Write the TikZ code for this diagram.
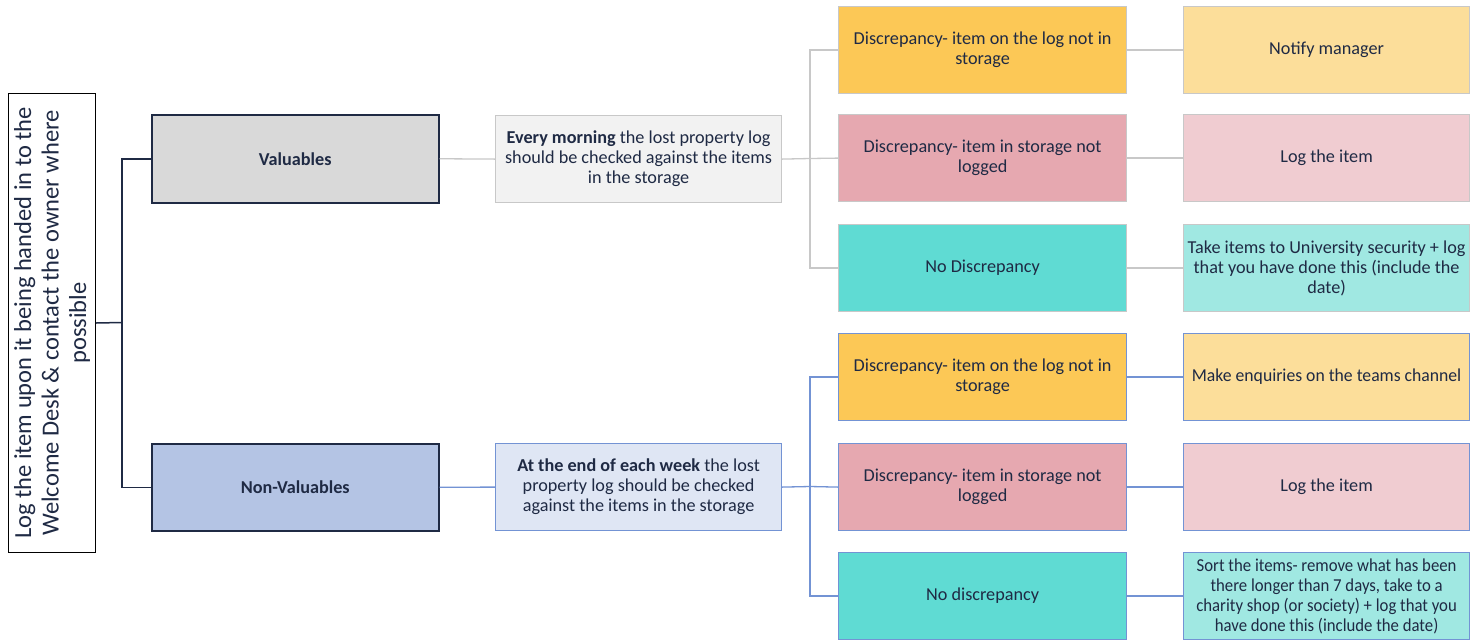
\documentclass[tikz,border=0pt]{standalone}
\usepackage{fontspec}
\setmainfont{Carlito}
\definecolor{txt}{HTML}{1F2A44}
\definecolor{dk}{HTML}{1F2A44}
\definecolor{gline}{HTML}{C8C8C8}
\definecolor{bline}{HTML}{7393D4}
\definecolor{valfill}{HTML}{D9D9D9}
\definecolor{nvalfill}{HTML}{B4C4E4}
\definecolor{emfill}{HTML}{F2F2F2}
\definecolor{ewfill}{HTML}{DFE6F4}
\definecolor{orA}{HTML}{FCC856}
\definecolor{pkA}{HTML}{E6A8B0}
\definecolor{tlA}{HTML}{5FDBD3}
\definecolor{orB}{HTML}{FCDE9A}
\definecolor{pkB}{HTML}{F0CCD1}
\definecolor{tlB}{HTML}{A0E8E2}
\begin{document}
\begin{tikzpicture}[x=1pt,y=-1pt,
  box/.style={draw, anchor=north west, align=center, text=txt, inner sep=1pt,
    font=\fontsize{18.2}{20}\selectfont},
  gbox/.style={box, draw=gline, line width=1.2pt},
  bbox/.style={box, draw=bline, line width=1.2pt},
  dbox/.style={box, draw=dk, line width=1.5pt},
  wide/.style={minimum width=288pt, minimum height=87pt},
  gconn/.style={draw=gline, line width=1.3pt},
  bconn/.style={draw=bline, line width=1.3pt},
  dconn/.style={draw=dk, line width=1.5pt}]
\useasboundingbox (0,0) rectangle (1484,641);
\fill[white] (0,0) rectangle (1484,641);

% root
\node[draw=black, line width=1pt, anchor=north west, minimum width=87pt, minimum height=459pt] (root) at (8,93) {};
\node[rotate=90, align=center, text=txt, font=\fontsize{24.5}{27.5}\selectfont] (roottext) at (root.center)
  {Log the item upon it being handed in to the\\Welcome Desk \& contact the owner where\\possible};

% level 1
\node[dbox, fill=valfill, minimum width=287pt, minimum height=88pt, font=\fontsize{18.2}{20}\selectfont\bfseries] (val) at (151,114) {Valuables};
\node[dbox, fill=nvalfill, minimum width=287pt, minimum height=87pt, font=\fontsize{18.2}{20}\selectfont\bfseries] (nval) at (151,443) {Non-Valuables};

% level 2
\node[gbox, fill=emfill, minimum width=286pt, minimum height=87pt] (em) at (495,115)
  {\textbf{Every morning} the lost property log\\should be checked against the items\\in the storage};
\node[bbox, fill=ewfill, minimum width=286pt, minimum height=87pt] (ew) at (495,443)
  {\textbf{At the end of each week} the lost\\property log should be checked\\against the items in the storage};

% level 3 top
\node[gbox, wide, fill=orA] (t1) at (838,6) {Discrepancy- item on the log not in\\storage};
\node[gbox, wide, fill=pkA] (t2) at (838,114) {Discrepancy- item in storage not\\logged};
\node[gbox, wide, fill=tlA] (t3) at (838,224) {No Discrepancy};
% level 3 bottom
\node[bbox, wide, fill=orA] (b1) at (838,333) {Discrepancy- item on the log not in\\storage};
\node[bbox, wide, fill=pkA] (b2) at (838,443) {Discrepancy- item in storage not\\logged};
\node[bbox, wide, fill=tlA] (b3) at (838,552) {No discrepancy};

% level 4 top
\node[gbox, wide, minimum width=286pt, fill=orB] (r1) at (1183,6) {Notify manager};
\node[gbox, wide, minimum width=286pt, fill=pkB] (r2) at (1183,114) {Log the item};
\node[gbox, wide, minimum width=286pt, fill=tlB] (r3) at (1183,224) {Take items to University security + log\\that you have done this (include the\\date)};
% level 4 bottom
\node[bbox, wide, minimum width=286pt, fill=orB, font=\fontsize{18.2}{20}\selectfont\addfontfeature{FakeStretch=0.97}] (s1) at (1183,333) {Make enquiries on the teams channel};
\node[bbox, wide, minimum width=286pt, fill=pkB] (s2) at (1183,443) {Log the item};
\node[bbox, wide, minimum width=286pt, fill=tlB, font=\fontsize{18.2}{20}\selectfont\addfontfeature{FakeStretch=0.92}] (s3) at (1183,552)
  {Sort the items- remove what has been\\there longer than 7 days, take to a\\charity shop (or society) + log that you\\have done this (include the date)};

% connectors
\coordinate (j1) at (122,322.5);
\draw[dconn] (root.east) -- (j1);
\draw[dconn] (j1) |- (val.west);
\draw[dconn] (j1) |- (nval.west);

\draw[gconn] (val.east) -- (em.west);
\draw[bconn] (nval.east) -- (ew.west);

\coordinate (j2) at (810,158.5);
\draw[gconn] (em.east) -- (j2);
\draw[gconn] (j2) |- (t1.west);
\draw[gconn] (j2) -- (t2.west);
\draw[gconn] (j2) |- (t3.west);

\coordinate (j3) at (810,486.5);
\draw[bconn] (ew.east) -- (j3);
\draw[bconn] (j3) |- (b1.west);
\draw[bconn] (j3) -- (b2.west);
\draw[bconn] (j3) |- (b3.west);

\draw[gconn] (t1.east) -- (r1.west);
\draw[gconn] (t2.east) -- (r2.west);
\draw[gconn] (t3.east) -- (r3.west);
\draw[bconn] (b1.east) -- (s1.west);
\draw[bconn] (b2.east) -- (s2.west);
\draw[bconn] (b3.east) -- (s3.west);
\end{tikzpicture}
\end{document}
